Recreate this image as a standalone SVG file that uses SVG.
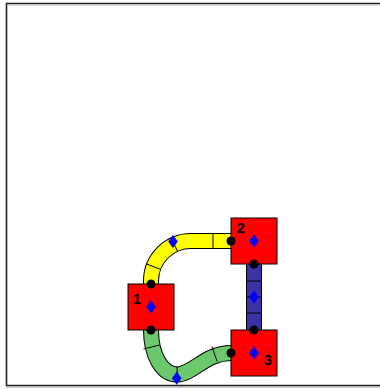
<svg xmlns="http://www.w3.org/2000/svg" xmlns:xlink="http://www.w3.org/1999/xlink" width="380" height="389" viewBox="0 0 380 389">
<style>
.edge{fill:none;stroke:#000;stroke-width:16;stroke-linecap:butt}
.fillY{fill:none;stroke:#ffff00;stroke-width:14}
.fillB{fill:none;stroke:#3d31a8;stroke-width:14}
.fillG{fill:none;stroke:#6cc86c;stroke-width:14}
.div{stroke:#000;stroke-width:1;fill:none}
.node{fill:#ff0000;stroke:#000;stroke-width:1}
.port{fill:#000}
.dia{fill:#0000ff}
.lbl{font-family:"Liberation Sans",Arial,sans-serif;font-weight:bold;font-size:14px;fill:#000}
</style>
<defs>
<path id="d" d="M0,-6.5 L4.8,0 L0,6.5 L-4.8,0Z"/>
</defs>
<rect width="380" height="389" fill="#fff"/>
<g id="frame">
<path d="M380,3.5 H6.5 V385.5 H380" fill="none" stroke="#222" stroke-width="1.6"/>
<path d="M7.5,5 H380" stroke="#bbb" stroke-width="1"/>
<path d="M6,387 H380" stroke="#999" stroke-width="1"/>
</g>
<g id="connectors">
<g id="c12">
<path class="edge" d="M151,284 L151,281 A40,40 0 0 1 191,241 L231,241"/>
<path class="fillY" d="M151,284 L151,281 A40,40 0 0 1 191,241 L231,241"/>
<path class="div" d="M146.2,263.8 L161.1,269.6 M171,237.2 L177.8,252 M213,233 V249"/>
<use xlink:href="#d" href="#d" class="dia" x="173" y="241.5"/>
</g>
<g id="c23">
<path class="edge" d="M254,264 V330"/>
<path class="fillB" d="M254,264 V330"/>
<path class="div" d="M246,281 H262 M246,297 H262 M246,313 H262"/>
<use xlink:href="#d" href="#d" class="dia" x="254" y="297"/>
</g>
<g id="c13">
<path class="edge" d="M151,330 C151,355 162,374.5 177,374.5 C193,374.5 205,353 231,353"/>
<path class="fillG" d="M151,330 C151,355 162,374.5 177,374.5 C193,374.5 205,353 231,353"/>
<path class="div" d="M143.5,349 L159.5,345 M177,366.5 L177.5,382.5 M211.8,346.5 L217.2,361.5"/>
<use xlink:href="#d" href="#d" class="dia" x="176.7" y="378.3"/>
</g>
</g>
<g id="node1">
<rect class="node" x="128" y="284" width="46" height="46"/>
<use xlink:href="#d" href="#d" class="dia" x="151" y="307"/>
<circle class="port" cx="151" cy="284" r="4.5"/>
<circle class="port" cx="151" cy="330" r="4.5"/>
<text class="lbl" x="133" y="304">1</text>
</g>
<g id="node2">
<rect class="node" x="231" y="218" width="46" height="46"/>
<use xlink:href="#d" href="#d" class="dia" x="254" y="241"/>
<circle class="port" cx="231" cy="241" r="4.5"/>
<circle class="port" cx="254" cy="264" r="4.5"/>
<text class="lbl" x="237" y="233">2</text>
</g>
<g id="node3">
<rect class="node" x="231" y="330" width="46" height="46"/>
<use xlink:href="#d" href="#d" class="dia" x="254" y="353"/>
<circle class="port" cx="254" cy="330" r="4.5"/>
<circle class="port" cx="231" cy="353" r="4.5"/>
<text class="lbl" x="264" y="365">3</text>
</g>
</svg>
